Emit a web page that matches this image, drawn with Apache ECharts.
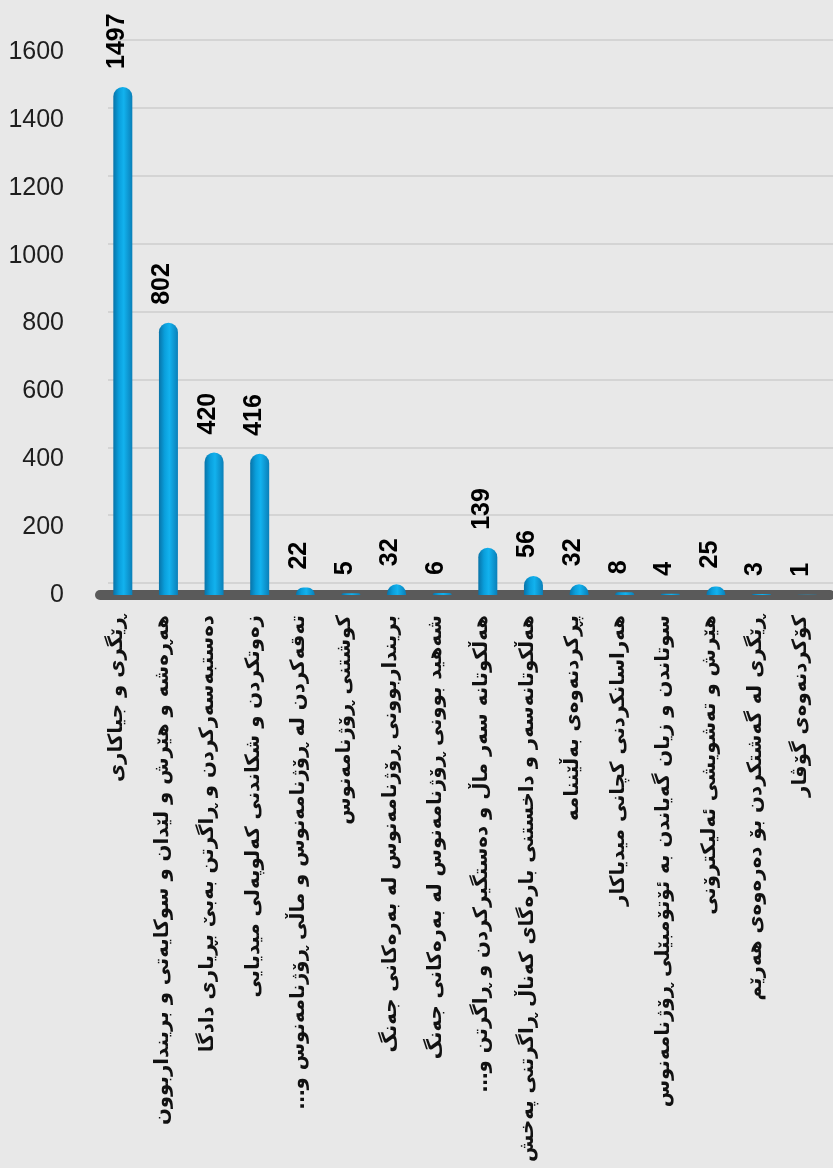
<!DOCTYPE html>
<html>
<head>
<meta charset="utf-8">
<script src="https://cdn.jsdelivr.net/npm/echarts@6/dist/echarts.min.js"></script>
<style>
html,body{margin:0;padding:0;background:#e8e8e8;}
#chart{width:833px;height:1168px;}
</style>
</head>
<body>
<div id="chart"></div>
<script>
const categories = [
  "ڕێگری و جیاکاری",
  "هەڕەشە و هێرش و لێدان و سوکایەتی و برینداربوون",
  "دەستبەسەرکردن و ڕاگرتن بەبێ بڕیاری دادگا",
  "زەوتکردن و شکاندنی کەلوپەلی میدیایی",
  "تەقەکردن لە ڕۆژنامەنوس و ماڵی ڕۆژنامەنوس و…",
  "کوشتنی ڕۆژنامەنوس",
  "برینداربوونی ڕۆژنامەنوس لە بەرەکانی جەنگ",
  "شەهید بوونی ڕۆژنامەنوس لە بەرەکانی جەنگ",
  "هەڵکوتانە سەر ماڵ و دەستگیرکردن و ڕاگرتن و…",
  "هەڵکوتانەسەر و داخستنی بارەگای کەناڵ ڕاگرتنی پەخش",
  "پڕکردنەوەی بەڵێننامە",
  "هەراسانکردنی کچانی میدیاکار",
  "سوتاندن و زیان گەیاندن بە ئۆتۆمبێلی ڕۆژنامەنوس",
  "هێرش و تەشویشی ئەلیکترۆنی",
  "ڕێگری لە گەشتکردن بۆ دەرەوەی هەرێم",
  "کۆکردنەوەی گۆڤار"
];
const values = [1497, 802, 420, 416, 22, 5, 32, 6, 139, 56, 32, 8, 4, 25, 3, 1];
const yMin = 0, yMax = 1600, yStep = 200;

const chart = echarts.init(document.getElementById('chart'));
chart.setOption({
  backgroundColor: '#e8e8e8',
  animation: false,
  grid: [
    {left: 100, right: 3, top: 52, bottom: 573},
    {left: 108, right: 0, top: 40, bottom: 585}
  ],
  xAxis: [
    {
      type: 'category', gridIndex: 0, data: categories,
      axisLine: {show: true, lineStyle: {color: '#5a5a5a', width: 10}},
      axisTick: {show: false},
      axisLabel: {
        interval: 0, rotate: 90, margin: 20,
        verticalAlign: 'bottom', lineHeight: 12,
        fontFamily: 'DejaVu Sans', fontSize: 19.8, fontWeight: 'bold', color: '#111',
        formatter: v => v + '\u200F'
      }
    },
    {
      type: 'category', gridIndex: 1, data: categories,
      axisLine: {show: false}, axisTick: {show: false}, axisLabel: {show: false}
    }
  ],
  yAxis: [
    {
      type: 'value', gridIndex: 0, min: yMin, max: yMax, interval: yStep,
      axisLine: {show: false}, axisTick: {show: false}, splitLine: {show: false},
      axisLabel: {margin: 36, fontFamily: 'Liberation Sans', fontSize: 25, color: '#1e1e1e',
        formatter: v => String(v)}
    },
    {
      type: 'value', gridIndex: 1, min: yMin, max: yMax, interval: yStep,
      axisLine: {show: false}, axisTick: {show: false}, axisLabel: {show: false},
      splitLine: {show: true, lineStyle: {color: '#d4d4d4', width: 2}}
    }
  ],
  series: [{
    type: 'bar', xAxisIndex: 0, yAxisIndex: 0, data: values,
    barWidth: 19,
    itemStyle: {
      borderRadius: [9.5, 9.5, 0, 0],
      color: new echarts.graphic.LinearGradient(0, 0, 1, 0, [
        {offset: 0, color: '#0873a8'},
        {offset: 0.3, color: '#0a9fdc'},
        {offset: 0.55, color: '#12b2ee'},
        {offset: 1, color: '#0a7fb8'}
      ])
    },
    label: {
      show: true, position: 'top', rotate: 90, distance: 18,
      align: 'left', verticalAlign: 'middle', offset: [0, -6],
      fontFamily: 'Liberation Sans', fontSize: 25, fontWeight: 'bold', color: '#000'
    }
  }]
});
</script>
</body>
</html>
